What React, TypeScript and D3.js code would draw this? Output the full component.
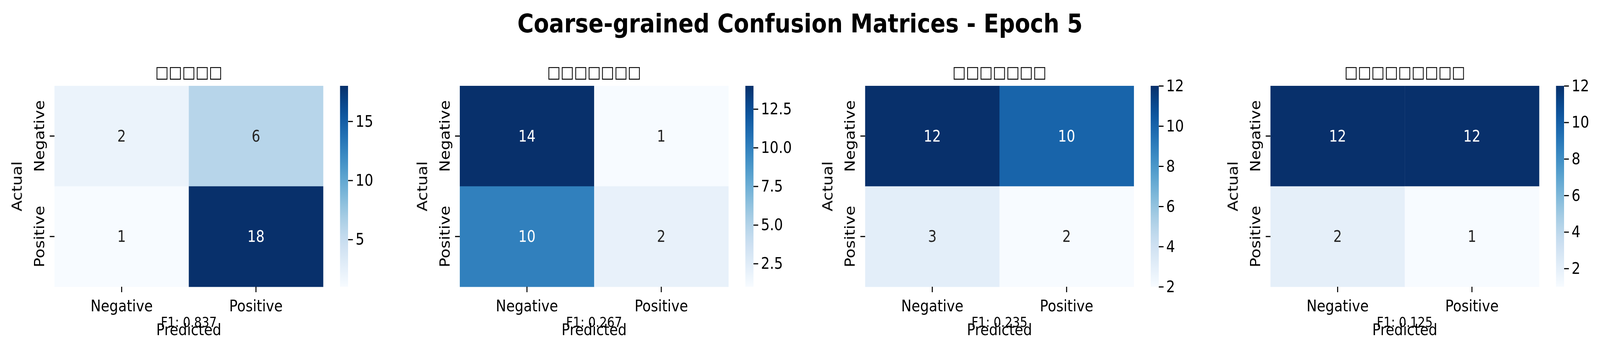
import React, { useEffect, useRef } from 'react';
import * as d3 from 'd3';

const categories = ['Negative', 'Positive'];
const titles = ['\u25A1\u25A1\u25A1\u25A1\u25A1', '\u25A1\u25A1\u25A1\u25A1\u25A1\u25A1\u25A1', '\u25A1\u25A1\u25A1\u25A1\u25A1\u25A1\u25A1', '\u25A1\u25A1\u25A1\u25A1\u25A1\u25A1\u25A1\u25A1\u25A1'];
const matrices = [
  [[2, 6], [1, 18]],
  [[14, 1], [10, 2]],
  [[12, 10], [3, 2]],
  [[12, 12], [2, 1]],
];
const f1Scores = ['0.837', '0.267', '0.235', '0.125'];
const cbarTicks = [
  [5, 10, 15],
  [2.5, 5.0, 7.5, 10.0, 12.5],
  [2, 4, 6, 8, 10, 12],
  [2, 4, 6, 8, 10, 12],
];

const W = 4729, H = 892;

const App: React.FC = () => {
  const ref = useRef<SVGSVGElement>(null);

  useEffect(() => {
    const svg = d3.select(ref.current)
      .attr('viewBox', `0 0 ${W} ${H}`)
      .attr('preserveAspectRatio', 'none')
      .html('');
    svg.append('rect').attr('width', W).attr('height', H).attr('fill', '#fff');
    const font = 'DejaVu Sans, sans-serif';

    svg.append('text').attr('x', W / 2).attr('y', 60).attr('dy', '0.35em')
      .attr('text-anchor', 'middle').attr('font-family', font).attr('font-weight', 'bold')
      .attr('font-size', 66).text('Coarse-grained Confusion Matrices - Epoch 5');

    const top = 220, bottom = 735, hmW = 794, step = 1198;

    matrices.forEach((m, i) => {
      const x0 = 161 + i * step;
      const g = svg.append('g').attr('transform', `translate(${x0},0)`);
      const flat = m.flat();
      const vmin = d3.min(flat)!, vmax = d3.max(flat)!;
      const color = (v: number) => d3.interpolateBlues((v - vmin) / (vmax - vmin));
      const x = d3.scaleBand().domain(categories).range([0, hmW]);
      const y = d3.scaleBand().domain(categories).range([top, bottom]);

      categories.forEach((r, ri) => categories.forEach((c, ci) => {
        const v = m[ri][ci];
        g.append('rect').attr('x', x(c)!).attr('y', y(r)!).attr('width', x.bandwidth() + 0.5)
          .attr('height', y.bandwidth() + 0.5).attr('fill', color(v));
        const t = (v - vmin) / (vmax - vmin);
        g.append('text').attr('x', x(c)! + x.bandwidth() / 2).attr('y', y(r)! + y.bandwidth() / 2)
          .attr('dy', '0.35em').attr('text-anchor', 'middle').attr('font-family', font)
          .attr('font-size', 40).attr('fill', t > 0.6 ? '#fff' : '#262626').text(v);
      }));

      categories.forEach(c => {
        const cx = x(c)! + x.bandwidth() / 2;
        g.append('line').attr('x1', cx).attr('x2', cx).attr('y1', bottom).attr('y2', bottom + 14)
          .attr('stroke', '#000').attr('stroke-width', 3);
        g.append('text').attr('x', cx).attr('y', 784).attr('dy', '0.35em').attr('text-anchor', 'middle')
          .attr('font-family', font).attr('font-size', 41).text(c);
      });
      categories.forEach(r => {
        const cy = y(r)! + y.bandwidth() / 2;
        g.append('line').attr('x1', -14).attr('x2', 0).attr('y1', cy).attr('y2', cy)
          .attr('stroke', '#000').attr('stroke-width', 3);
        g.append('text').attr('transform', `translate(-45,${cy}) rotate(-90)`).attr('dy', '0.35em')
          .attr('text-anchor', 'middle').attr('font-family', font).attr('font-size', 41).text(r);
      });
      g.append('text').attr('transform', `translate(-111,${(top + bottom) / 2}) rotate(-90)`).attr('dy', '0.35em')
        .attr('text-anchor', 'middle').attr('font-family', font).attr('font-size', 41).text('Actual');
      g.append('text').attr('x', hmW / 2).attr('y', 845).attr('dy', '0.35em').attr('text-anchor', 'middle')
        .attr('font-family', font).attr('font-size', 41).text('Predicted');
      g.append('text').attr('x', hmW / 2).attr('y', 826).attr('dy', '0.35em').attr('text-anchor', 'middle')
        .attr('font-family', font).attr('font-size', 35).text(`F1: ${f1Scores[i]}`);
      g.append('text').attr('x', hmW / 2).attr('y', 184).attr('dy', '0.35em').attr('text-anchor', 'middle')
        .attr('font-family', font).attr('font-size', 42).text(titles[i]);

      const cbX = hmW + 50, cbW = 24;
      const gid = `cb${i}`;
      const grad = svg.append('defs').append('linearGradient').attr('id', gid)
        .attr('x1', 0).attr('y1', 1).attr('x2', 0).attr('y2', 0);
      d3.range(0, 1.0001, 0.05).forEach(t => grad.append('stop').attr('offset', t).attr('stop-color', d3.interpolateBlues(t)));
      g.append('rect').attr('x', cbX).attr('y', top).attr('width', cbW).attr('height', bottom - top).attr('fill', `url(#${gid})`);
      const cs = d3.scaleLinear().domain([vmin, vmax]).range([bottom, top]);
      const fmt = i === 1 ? d3.format('.1f') : d3.format('d');
      g.append('g').attr('transform', `translate(${cbX + cbW},0)`)
        .call(d3.axisRight(cs).tickValues(cbarTicks[i]).tickSize(14).tickPadding(8).tickFormat(d => fmt(d as number)))
        .call(a => a.select('.domain').remove())
        .call(a => a.selectAll('line').attr('stroke-width', 3))
        .call(a => a.selectAll('text').attr('font-family', font).attr('font-size', 41).attr('fill', '#000'));
    });
  }, []);

  return <svg ref={ref} style={{ position: 'fixed', left: 0, top: 0, width: '100vw', height: '100vh', display: 'block' }} />;
};

export default App;
